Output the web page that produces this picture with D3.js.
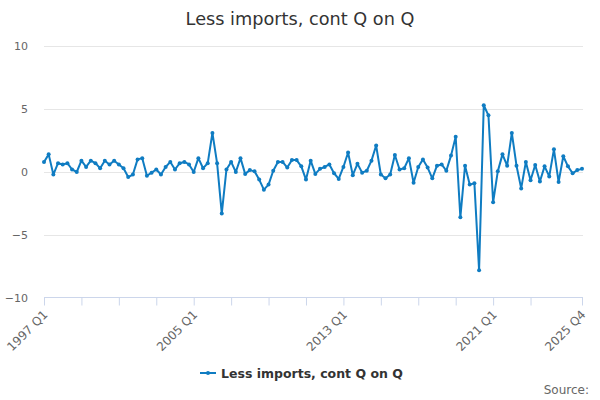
<!DOCTYPE html>
<html>
<head>
<meta charset="utf-8">
<script src="https://cdn.jsdelivr.net/npm/d3@7/dist/d3.min.js"></script>
<style>
  html, body { margin: 0; padding: 0; background: #fff; }
  svg { display: block; font-family: "DejaVu Sans", Verdana, sans-serif; }
</style>
</head>
<body>
<svg id="chart" width="600" height="400"></svg>
<script>
const title = "Less imports, cont Q on Q";
const seriesName = "Less imports, cont Q on Q";
const sourceText = "Source:";
const startYear = 1997;
const endYear = 2025;
const quarters = [];
for (let yr = startYear; yr <= endYear; yr++) for (let q = 1; q <= 4; q++) quarters.push(yr + " Q" + q);

const values = [
  0.8, 1.4, -0.2, 0.7,
  0.6, 0.7, 0.2, 0.0,
  0.9, 0.4, 0.9, 0.7,
  0.3, 0.9, 0.6, 0.9,
  0.6, 0.3, -0.4, -0.2,
  1.0, 1.1, -0.3, -0.05,
  0.2, -0.2, 0.4, 0.8,
  0.2, 0.7, 0.8, 0.6,
  0.0, 1.1, 0.3, 0.7,
  3.1, 0.7, -3.3, 0.2,
  0.8, 0.0, 1.1, -0.15,
  0.15, 0.05, -0.6, -1.4,
  -1.0, 0.1, 0.8, 0.8,
  0.35, 0.95, 0.95, 0.45,
  -0.6, 0.9, -0.15, 0.25,
  0.4, 0.6, -0.1, -0.55,
  0.4, 1.55, -0.25, 0.65,
  -0.05, 0.1, 0.9, 2.1,
  -0.2, -0.5, -0.2, 1.35,
  0.2, 0.3, 1.1, -0.85,
  0.4, 1.0, 0.35, -0.5,
  0.5, 0.6, 0.1, 1.3,
  2.8, -3.6, 0.5, -1.0,
  -0.9, -7.8, 5.3, 4.5,
  -2.4, 0.05, 1.4, 0.5,
  3.1, 0.5, -1.3, 0.8,
  -0.65, 0.55, -0.75, 0.45,
  -0.35, 1.8, -0.8, 1.25,
  0.45, -0.1, 0.15, 0.25
];
const yTicks = [-10, -5, 0, 5, 10];
const xTickIndices = [0, 8, 16, 24, 32, 40, 48, 56, 64, 72, 80, 88, 96, 104, 115];
const xLabelIndices = [0, 32, 64, 96, 115];

const svg = d3.select("#chart");
const plotLeft = 44, plotRight = 582, plotTop = 46, plotBottom = 298;
const color = "#0f7cc2";

const x = d3.scaleLinear().domain([0, quarters.length - 1]).range([plotLeft, plotRight]);
const y = d3.scaleLinear().domain([-10, 10]).range([plotBottom, plotTop]);

// title
svg.append("text").attr("x", 300).attr("y", 24.5).attr("text-anchor", "middle")
  .attr("font-size", 17.7).attr("fill", "#333333").text(title);

// grid lines
svg.append("g").selectAll("line").data(yTicks.filter(d => d !== -10)).join("line")
  .attr("x1", plotLeft).attr("x2", plotRight + 1)
  .attr("y1", d => Math.round(y(d)) + 0.5).attr("y2", d => Math.round(y(d)) + 0.5)
  .attr("stroke", "#e6e6e6").attr("stroke-width", 1);

// y labels
const yAxis = d3.axisLeft(y).tickValues(yTicks).tickSize(0).tickPadding(0);
const gy = svg.append("g").attr("transform", `translate(${plotLeft - 16},0)`).call(yAxis);
gy.select(".domain").remove();
gy.selectAll("text").attr("font-size", 11).attr("fill", "#666666")
  .attr("font-family", "DejaVu Sans, sans-serif").attr("dy", "0.35em");

// x axis
const xAxis = d3.axisBottom(x).tickValues(xTickIndices).tickSize(8)
  .tickFormat(i => xLabelIndices.includes(i) ? quarters[i] : "");
const gx = svg.append("g").attr("transform", `translate(0,${plotBottom - 0.5})`).call(xAxis);
gx.select(".domain").attr("stroke", "#ccd6eb").attr("d", `M${plotLeft},0H${plotRight + 1}`);
gx.selectAll(".tick line").attr("stroke", "#ccd6eb");
gx.selectAll(".tick text")
  .attr("font-size", 12).attr("fill", "#666666").attr("font-family", "DejaVu Sans, sans-serif")
  .attr("text-anchor", "end")
  .attr("transform", "translate(1,15) rotate(-45)")
  .attr("dy", "0.35em").attr("y", 0).attr("x", 0);

// line
const line = d3.line().x((d, i) => x(i)).y(d => y(d));
svg.append("path").datum(values).attr("d", line)
  .attr("fill", "none").attr("stroke", color).attr("stroke-width", 2)
  .attr("stroke-linejoin", "round").attr("stroke-linecap", "round");
svg.append("g").selectAll("circle").data(values).join("circle")
  .attr("cx", (d, i) => x(i)).attr("cy", d => y(d)).attr("r", 2).attr("fill", color);

// legend
const lg = svg.append("g").attr("transform", "translate(200,373)");
lg.append("line").attr("x1", 0).attr("x2", 16).attr("y1", 0).attr("y2", 0)
  .attr("stroke", color).attr("stroke-width", 2);
lg.append("circle").attr("cx", 8).attr("cy", 0).attr("r", 2).attr("fill", color);
lg.append("text").attr("x", 21).attr("y", 4.5).attr("font-size", 12.5).attr("font-weight", "bold")
  .attr("fill", "#333333").text(seriesName);

// source
svg.append("text").attr("x", 589).attr("y", 394).attr("text-anchor", "end")
  .attr("font-size", 12).attr("fill", "#666666").text(sourceText);
</script>
</body>
</html>
